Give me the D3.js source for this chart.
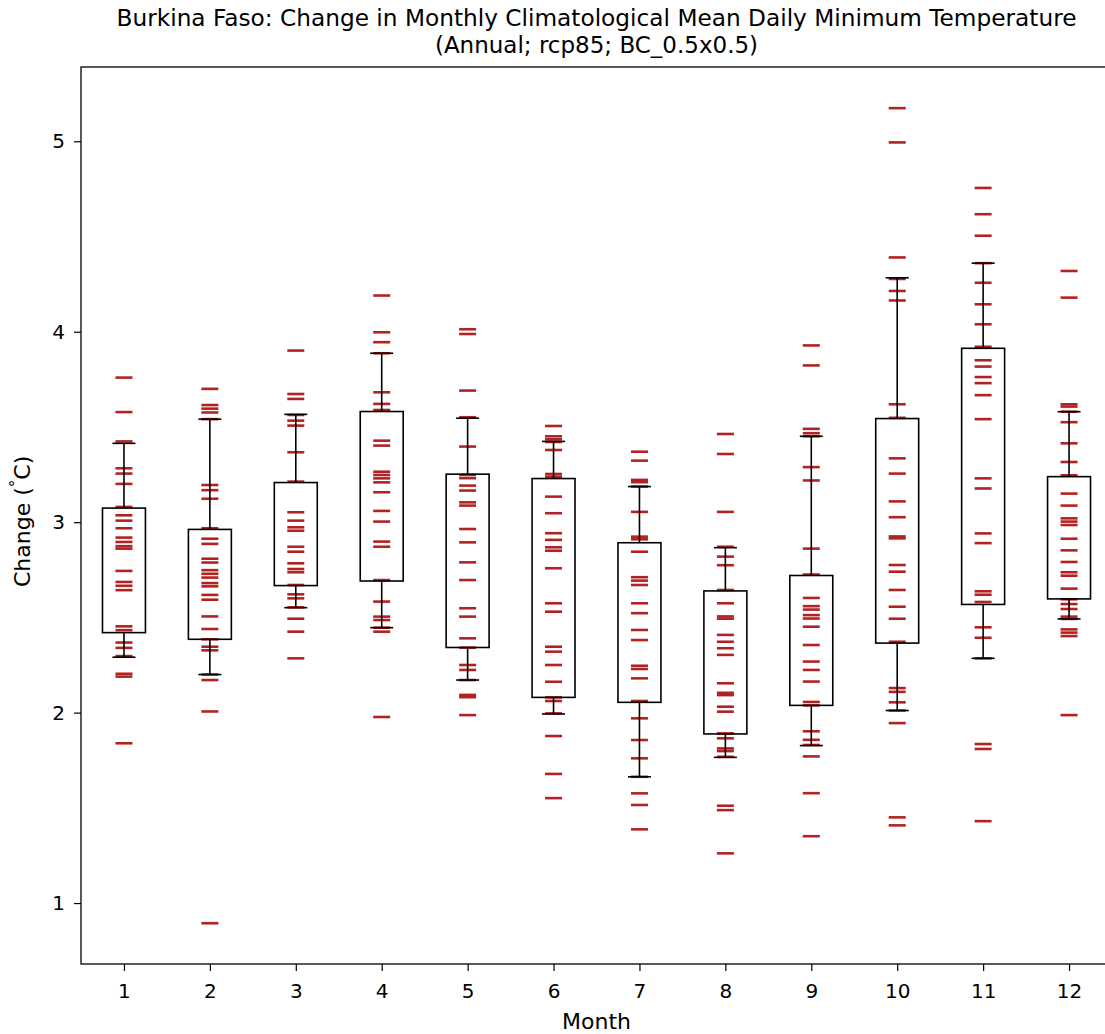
<!DOCTYPE html>
<html><head><meta charset="utf-8">
<script src="https://cdn.jsdelivr.net/npm/d3@7"></script>
<style>body{margin:0;background:#fff;} svg{display:block;} text{font-family:"DejaVu Sans",sans-serif;}</style>
</head><body><svg id="chart" width="1105" height="1034"></svg>
<script>
const months = [1,2,3,4,5,6,7,8,9,10,11,12];
const m1 = [3.759,3.578,3.424,3.283,3.255,3.201,3.080,3.036,3.008,2.968,2.919,2.896,2.874,2.861,2.744,2.686,2.666,2.643,2.453,2.433,2.368,2.340,2.297,2.204,2.189,1.839];
const m2 = [3.700,3.615,3.596,3.576,3.541,3.195,3.168,3.123,2.968,2.913,2.886,2.808,2.788,2.748,2.729,2.709,2.680,2.663,2.618,2.593,2.505,2.439,2.385,2.346,2.327,2.200,2.171,2.006,0.894];
const m3 = [3.901,3.673,3.647,3.563,3.533,3.507,3.367,3.213,3.052,3.008,2.973,2.955,2.871,2.845,2.784,2.754,2.737,2.670,2.621,2.600,2.553,2.493,2.425,2.285];
const m4 = [4.190,3.997,3.945,3.887,3.682,3.621,3.589,3.428,3.402,3.265,3.248,3.230,3.209,3.157,3.059,3.003,2.898,2.871,2.696,2.583,2.504,2.486,2.446,2.425,1.977];
const m5 = [4.013,3.988,3.691,3.551,3.397,3.248,3.231,3.192,3.166,3.104,3.087,2.964,2.894,2.789,2.696,2.548,2.504,2.390,2.341,2.250,2.224,2.171,2.093,2.081,1.987];
const m6 = [3.505,3.451,3.435,3.421,3.379,3.253,3.239,3.134,3.047,2.942,2.907,2.868,2.850,2.758,2.574,2.530,2.346,2.320,2.250,2.162,2.080,2.061,1.996,1.877,1.678,1.551];
const m7 = [3.370,3.323,3.222,3.210,3.187,3.054,2.924,2.910,2.845,2.711,2.693,2.670,2.574,2.522,2.434,2.381,2.246,2.229,2.180,2.061,1.970,1.856,1.760,1.663,1.576,1.515,1.387];
const m8 = [3.463,3.358,3.054,2.871,2.819,2.774,2.644,2.574,2.505,2.493,2.408,2.372,2.338,2.303,2.154,2.104,2.092,2.031,2.005,1.891,1.865,1.812,1.798,1.768,1.511,1.488,1.261];
const m9 = [3.928,3.823,3.490,3.467,3.451,3.289,3.219,2.861,2.725,2.602,2.559,2.541,2.512,2.494,2.451,2.355,2.268,2.224,2.163,2.056,2.038,1.902,1.857,1.830,1.770,1.577,1.351];
const m10 = [5.174,4.994,4.390,4.277,4.214,4.164,3.619,3.548,3.335,3.255,3.109,3.026,2.925,2.915,2.775,2.740,2.644,2.556,2.493,2.372,2.129,2.109,2.054,2.011,1.945,1.450,1.408];
const m11 = [4.755,4.617,4.504,4.360,4.257,4.144,4.039,3.921,3.850,3.817,3.762,3.730,3.667,3.541,3.230,3.177,2.941,2.890,2.637,2.619,2.581,2.448,2.393,2.285,1.835,1.809,1.430];
const m12 = [4.319,4.179,3.619,3.607,3.580,3.525,3.414,3.316,3.246,3.150,3.087,3.020,3.003,2.985,2.913,2.852,2.791,2.737,2.719,2.651,2.595,2.570,2.544,2.504,2.492,2.437,2.420,2.402,1.987];
const monthValues = [m1,m2,m3,m4,m5,m6,m7,m8,m9,m10,m11,m12];

// box statistics
const whiskerLow  = [2.291,2.200,2.551,2.446,2.171,1.993,1.663,1.765,1.827,2.011,2.285,2.492];
const boxLow      = [2.420,2.385,2.667,2.691,2.342,2.080,2.054,1.888,2.038,2.365,2.568,2.597];
const boxHigh     = [3.074,2.962,3.208,3.581,3.252,3.229,2.892,2.639,2.720,3.544,3.913,3.239];
const whiskerHigh = [3.414,3.541,3.566,3.887,3.546,3.424,3.187,2.866,3.451,4.283,4.360,3.580];

const yTicks = [1,2,3,4,5];
const titleLines = ["Burkina Faso: Change in Monthly Climatological Mean Daily Minimum Temperature","(Annual; rcp85; BC_0.5x0.5)"];

const svg = d3.select("#chart");
const L = 81, R = 1112, T = 67, B = 964;
const x = d3.scaleLinear().domain([0.5, 12.5]).range([L, R]);
const y = d3.scaleLinear().domain([0.68, 5.39]).range([B, T]);
const bw = x(1.25) - x(1);   // half box width
const cw = 11.5;             // half cap width
const dw = 8.5;              // half dash width

svg.append("rect").attr("width",1105).attr("height",1034).attr("fill","#fff");

// dashes
const dashG = svg.append("g");
months.forEach((m,i)=>{
  dashG.selectAll(null).data(monthValues[i]).enter().append("line")
    .attr("x1", x(m)-dw).attr("x2", x(m)+dw)
    .attr("y1", d=>y(d)).attr("y2", d=>y(d))
    .attr("stroke","#b22222").attr("stroke-width",2.6);
});

// boxes
const boxG = svg.append("g").attr("stroke","#000").attr("stroke-width",1.6).attr("fill","none");
months.forEach((m,i)=>{
  const cx = x(m);
  boxG.append("rect").attr("x", cx-bw).attr("y", y(boxHigh[i])).attr("width", 2*bw).attr("height", y(boxLow[i])-y(boxHigh[i]));
  boxG.append("line").attr("x1",cx).attr("x2",cx).attr("y1",y(boxHigh[i])).attr("y2",y(whiskerHigh[i]));
  boxG.append("line").attr("x1",cx).attr("x2",cx).attr("y1",y(boxLow[i])).attr("y2",y(whiskerLow[i]));
  boxG.append("line").attr("x1",cx-cw).attr("x2",cx+cw).attr("y1",y(whiskerHigh[i])).attr("y2",y(whiskerHigh[i]));
  boxG.append("line").attr("x1",cx-cw).attr("x2",cx+cw).attr("y1",y(whiskerLow[i])).attr("y2",y(whiskerLow[i]));
});

// axes
const xAxis = svg.append("g").attr("transform",`translate(0,${B})`)
  .call(d3.axisBottom(x).tickValues(months).tickSize(7).tickPadding(12.5).tickFormat(d3.format("d")));
const yAxis = svg.append("g").attr("transform",`translate(${L},0)`)
  .call(d3.axisLeft(y).tickValues(yTicks).tickSize(7).tickPadding(9).tickFormat(d3.format("d")));
[xAxis,yAxis].forEach(a=>{
  a.select(".domain").remove();
  a.selectAll("text").attr("font-size",20).attr("fill","#000").attr("font-family","DejaVu Sans");
  a.selectAll("line").attr("stroke","#000").attr("stroke-width",1.2);
});
svg.append("rect").attr("x",L).attr("y",T).attr("width",R-L).attr("height",B-T)
  .attr("fill","none").attr("stroke","#000").attr("stroke-width",1.3);

// title
const cxT = (L+R)/2;
svg.append("text").attr("x",cxT).attr("y",26).attr("text-anchor","middle").attr("font-size",23)
  .attr("textLength",960).attr("lengthAdjust","spacingAndGlyphs").text(titleLines[0]);
svg.append("text").attr("x",cxT).attr("y",53).attr("text-anchor","middle").attr("font-size",23)
  .text(titleLines[1]);

// axis labels
svg.append("text").attr("x",cxT).attr("y",1029).attr("text-anchor","middle").attr("font-size",22).text("Month");
const yl = svg.append("text").attr("transform","translate(30,587) rotate(-90)").attr("text-anchor","start").attr("font-size",22);
yl.append("tspan").text("Change (");
yl.append("tspan").attr("font-size",15).attr("dy",-9).text("°");
yl.append("tspan").attr("dy",9).text("C)");
</script></body></html>
